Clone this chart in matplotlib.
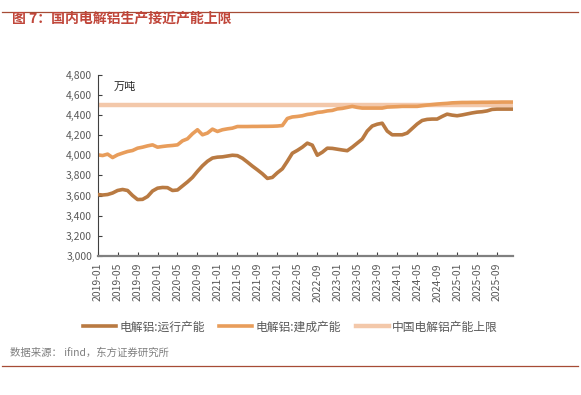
import matplotlib
matplotlib.use("Agg")
import matplotlib.pyplot as plt
import pandas as pd

plt.rcParams['font.family'] = ['Noto Sans CJK SC', 'DejaVu Sans']

# monthly data, 2019-01 .. 2025-12 (万吨)
months = pd.date_range("2019-01-01", "2025-12-01", freq="MS").strftime("%Y-%m").tolist()

running = [3610, 3605, 3610, 3625, 3650, 3660, 3650, 3600, 3560, 3562,
           3590, 3645, 3673, 3680, 3678, 3650, 3655, 3695, 3735, 3780,
           3840, 3895, 3940, 3972, 3981, 3984, 3992, 4000, 3996, 3970,
           3932, 3892, 3855, 3816, 3770, 3780, 3826, 3865, 3940, 4020,
           4048, 4080, 4120, 4100, 4000, 4030, 4070, 4068, 4060, 4052,
           4045, 4080, 4120, 4160, 4240, 4290, 4308, 4318, 4240, 4203,
           4203, 4203, 4220, 4265, 4310, 4345, 4356, 4359, 4359, 4385,
           4408, 4398, 4392, 4400, 4410, 4420, 4428, 4432, 4440, 4455,
           4458, 4458, 4458, 4458]

built = [4004, 3997, 4011, 3977, 4004, 4021, 4037, 4047, 4070, 4080,
         4093, 4103, 4080, 4087, 4093, 4097, 4103, 4143, 4163, 4213,
         4253, 4203, 4220, 4259, 4236, 4253, 4262, 4269, 4285, 4285,
         4285, 4286, 4286, 4287, 4287, 4288, 4290, 4295, 4365, 4380,
         4385, 4392, 4405, 4412, 4425, 4430, 4440, 4445, 4460, 4465,
         4475, 4485, 4475, 4468, 4468, 4468, 4468, 4468, 4478, 4480,
         4482, 4485, 4485, 4485, 4485, 4492, 4498, 4503, 4508, 4512,
         4515, 4520, 4522, 4524, 4524, 4525, 4525, 4526, 4526, 4527,
         4527, 4528, 4528, 4528]

cap = [4500] * len(months)

labels = ["电解铝:运行产能", "电解铝:建成产能", "中国电解铝产能上限"]
colors = ["#B97A42", "#E89D5B", "#F3C8AA"]

fig = plt.figure(figsize=(5.81, 3.95), dpi=100)
ax = fig.add_axes([0.168, 0.352, 0.715, 0.459])

x = list(range(len(months)))
ax.plot(x, running, color=colors[0], lw=2.6, label=labels[0], zorder=3)
ax.plot(x, built, color=colors[1], lw=2.6, label=labels[1], zorder=2)
ax.plot(x, cap, color=colors[2], lw=3.2, label=labels[2], zorder=1)

ax.set_xlim(0, 83.2)
ax.set_ylim(3000, 4800)
ax.set_yticks(range(3000, 4801, 200))
ax.set_yticklabels([f"{v:,}" for v in range(3000, 4801, 200)])
ax.set_xticks(x[::4])
ax.set_xticklabels(months[::4], rotation=90)

for s in ["top", "right"]:
    ax.spines[s].set_visible(False)
ax.spines["left"].set_color("#404040")
ax.spines["left"].set_linewidth(0.8)
ax.spines["bottom"].set_color("#808080")
ax.spines["bottom"].set_linewidth(1.6)
ax.tick_params(axis="y", direction="in", length=3, width=0.8, color="#404040",
               labelsize=7.5, labelcolor="#595959", pad=4)
ax.tick_params(axis="x", direction="in", length=3, width=0.8, color="#404040",
               labelsize=7.5, labelcolor="#595959", pad=5)

ax.text(0.038, 0.93, "万吨", transform=ax.transAxes, fontsize=8, color="#262626",
        va="center", ha="left")

fig.legend(loc="center", bbox_to_anchor=(0.5, 1 - 327 / 395), ncol=3,
           frameon=False, fontsize=8.5, labelcolor="#595959",
           handlelength=2.8, columnspacing=1.2, handletextpad=0.3)

# title, frame lines and source
fig.add_artist(plt.Line2D([0.004, 0.995], [1 - 12 / 395] * 2, color="#A64B35", lw=0.9))
fig.add_artist(plt.Line2D([0.004, 0.995], [1 - 366 / 395] * 2, color="#A64B35", lw=0.9))
fig.text(0.021, 1 - 19 / 395, "图 7：国内电解铝生产接近产能上限", fontsize=10,
         color="#C0463A", fontweight="bold", va="center", ha="left")
fig.text(0.017, 1 - 353 / 395, "数据来源： ifind，东方证券研究所", fontsize=7.5,
         color="#7F7F7F", va="center", ha="left")

fig.savefig("out.png", dpi=100)
